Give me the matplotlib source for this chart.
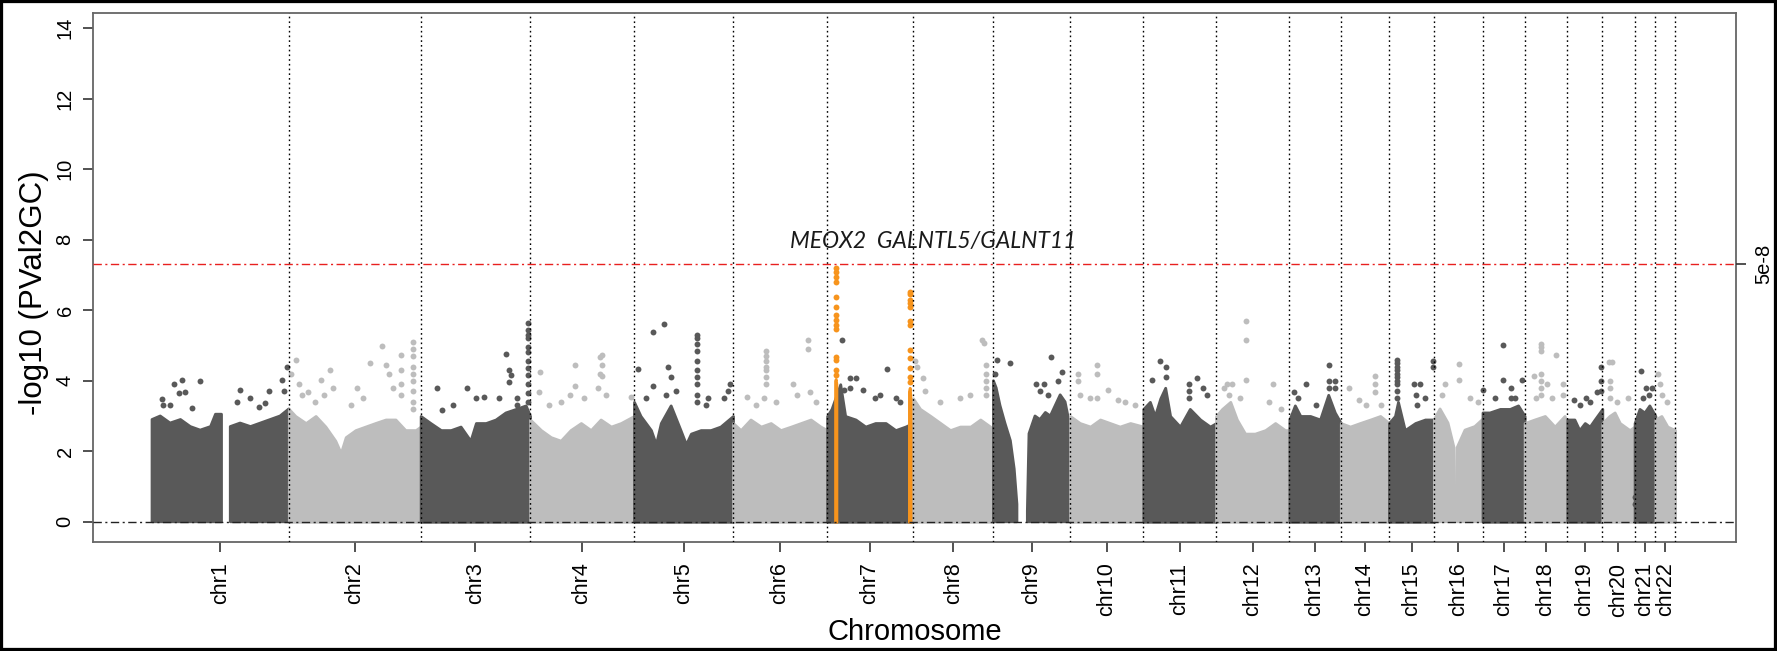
import numpy as np
import matplotlib
matplotlib.use("Agg")
import matplotlib.pyplot as plt

nan = float("nan")

# ---------------- data ----------------
chrom_names = [f"chr{i}" for i in range(1, 23)]
chrom_len_mb = [250, 241, 200, 190, 181, 172, 157, 147, 140, 134, 133, 134,
                94, 88, 83, 88, 77, 78, 64, 59, 38, 36]

# upper outline of the dense point cloud: (position Mb within chromosome, -log10 p)
chr1_band = [(0, 2.9), (15, 3.0), (33, 2.8), (52, 2.9), (70, 2.7), (88, 2.6), (107, 2.7), (116, 3.05), (127, 3.05),
             (135, nan), (143, 2.7), (161, 2.8), (180, 2.7), (198, 2.8), (216, 2.9), (234, 3.0), (250, 3.2)]
chr2_band = [(0, 3.2), (12, 3.0), (31, 2.8), (49, 3.0), (67, 2.7), (85, 2.3), (95, 1.95), (104, 2.4), (122, 2.6),
             (140, 2.7), (158, 2.8), (177, 2.9), (195, 2.9), (213, 2.6), (232, 2.6), (241, 2.7)]
chr3_band = [(0, 3.0), (18, 2.8), (37, 2.6), (55, 2.6), (73, 2.7), (91, 2.3), (101, 2.8), (119, 2.8), (137, 2.9),
             (155, 3.1), (174, 3.2), (192, 3.3), (200, 3.0)]
chr4_band = [(0, 2.9), (20, 2.6), (38, 2.4), (56, 2.3), (74, 2.6), (93, 2.8), (111, 2.6), (129, 2.9), (148, 2.7),
             (166, 2.8), (190, 3.0)]
chr5_band = [(0, 3.4), (12, 3.0), (31, 2.6), (40, 2.2), (49, 2.8), (67, 3.3), (85, 2.6), (95, 2.2), (104, 2.5),
             (122, 2.6), (140, 2.6), (158, 2.7), (181, 3.0)]
chr6_band = [(0, 2.8), (14, 2.6), (32, 2.9), (51, 2.7), (69, 2.8), (87, 2.6), (106, 2.7), (124, 2.8), (142, 2.9),
             (160, 2.7), (172, 2.6)]
chr7_band = [(0, 3.0), (8, 3.2), (24, 3.9), (33, 3.0), (52, 2.9), (70, 2.7), (88, 2.8), (107, 2.8), (125, 2.6),
             (143, 2.7), (157, 2.8)]
chr8_band = [(0, 3.5), (13, 3.2), (32, 3.0), (50, 2.8), (68, 2.6), (86, 2.7), (105, 2.7), (123, 2.9), (141, 2.7),
             (147, 2.6)]
chr9_band = [(0, 4.0), (5, 3.8), (12, 3.3), (21, 2.8), (31, 2.3), (38, 1.5), (43, 0.5), (44, nan), (61, nan),
             (62, 0.3), (65, 2.5), (76, 3.0), (85, 2.9), (95, 3.1), (104, 3.0), (113, 3.3), (122, 3.6), (131, 3.4),
             (140, 2.7)]
chr10_band = [(0, 3.0), (18, 2.8), (37, 2.7), (55, 2.9), (73, 2.8), (91, 2.7), (110, 2.8), (134, 2.7)]
chr11_band = [(0, 3.2), (12, 3.4), (21, 3.0), (31, 3.5), (40, 3.8), (49, 3.0), (67, 2.7), (85, 3.2), (104, 2.9),
              (122, 2.7), (133, 2.8)]
chr12_band = [(0, 3.0), (11, 3.2), (26, 3.4), (38, 2.9), (53, 2.5), (71, 2.5), (90, 2.6), (108, 2.8), (126, 2.6),
              (134, 2.6)]
chr13_band = [(0, 2.9), (10, 3.3), (20, 3.0), (38, 3.0), (56, 2.9), (71, 3.6), (83, 3.1), (94, 2.8)]
chr14_band = [(0, 2.8), (17, 2.7), (35, 2.8), (54, 2.9), (72, 3.0), (88, 2.8)]
chr15_band = [(0, 2.8), (11, 3.0), (16.5, 3.4), (29, 2.6), (48, 2.8), (66, 2.9), (83, 2.9)]
chr16_band = [(0, 2.9), (10.4, 3.2), (25, 2.8), (36, 2.1), (37.5, 0.3), (38.5, nan), (40, 0.3), (41.5, 2.1),
              (56, 2.6), (74, 2.7), (88, 2.9)]
chr17_band = [(0, 3.1), (13, 3.1), (32, 3.2), (50, 3.2), (65, 3.3), (77, 3.0)]
chr18_band = [(0, 2.8), (18, 2.9), (37, 3.0), (55, 2.7), (73, 3.0), (78, 2.8)]
chr19_band = [(0, 2.9), (13, 2.9), (22, 2.6), (32, 2.8), (41, 2.7), (50, 2.9), (64, 3.2)]
chr20_band = [(0, 2.8), (13, 3.0), (22.5, 3.1), (32, 2.8), (50, 2.6), (59, 2.7)]
chr21_band = [(0, 2.8), (9, 3.2), (18, 3.1), (27, 3.3), (38, 3.0)]
chr22_band = [(0, 2.9), (11, 3.0), (22, 2.7), (36, 2.6)]

# individual SNPs standing above the cloud: (position Mb within chromosome, -log10 p)
chr1_hits = [(39.5, 3.90), (54.8, 4.02), (88.3, 4.0), (48.6, 3.64), (60.9, 3.69), (18.3, 3.47), (20.7, 3.3),
             (73.1, 3.24), (33.5, 3.3), (161.4, 3.73), (179.7, 3.5), (213.1, 3.71), (237.6, 4.02), (241.9, 3.7),
             (246.8, 4.4), (194.9, 3.26), (207.1, 3.36), (155.4, 3.4)]
chr2_hits = [(13.5, 4.59), (4.9, 4.2), (58, 4.02), (76.2, 4.3), (36, 3.69), (48.8, 3.4), (125, 3.78), (149.3, 4.49),
             (170.7, 4.98), (176.8, 4.44), (182.3, 4.2), (204.2, 4.73), (205.5, 4.3), (206, 3.9), (206, 3.6),
             (227.4, 5.1), (227.4, 4.9), (227.4, 4.7), (227.4, 4.4), (227.4, 4.2), (227.4, 4.0), (227.4, 3.7),
             (227.4, 3.4), (227.4, 3.2), (113, 3.3), (135, 3.5), (18, 3.9), (25, 3.6), (63.6, 3.6), (81.7, 3.8),
             (189.6, 3.8)]
chr3_hits = [(30.5, 3.78), (39.7, 3.17), (58.5, 3.3), (85.4, 3.78), (100.5, 3.5), (115, 3.55), (143.1, 3.5),
             (155.4, 4.76), (161.4, 4.3), (161.4, 3.95), (164.5, 4.15), (176.8, 3.5), (176.8, 3.3), (196, 5.65),
             (196, 5.45), (196, 5.3), (196, 5.2), (196, 4.95), (196, 4.8), (196, 4.55), (196, 4.35), (196, 4.15),
             (196, 3.9), (196, 3.65), (196, 3.4)]
chr4_hits = [(18.8, 4.26), (15.9, 3.67), (81.7, 4.44), (81.7, 3.85), (72.6, 3.6), (98.2, 3.5), (127.4, 4.67),
             (127.4, 4.2), (131, 4.73), (131, 4.44), (131, 4.14), (123.7, 3.79), (138, 3.6), (184, 3.55),
             (56.1, 3.4), (34.2, 3.3)]
chr5_hits = [(7.5, 4.32), (35.5, 3.85), (35.5, 5.38), (55, 5.61), (62.2, 4.38), (67, 4.1), (58, 3.6), (115.9, 5.3),
             (115.9, 5.2), (115.9, 5.05), (115.9, 4.85), (115.9, 4.55), (115.9, 4.3), (115.9, 4.1), (115.9, 3.9),
             (115.9, 3.6), (115.9, 3.4), (131, 3.3), (135, 3.5), (164.7, 3.5), (175.3, 3.9), (171, 3.7),
             (21.4, 3.5), (76, 3.7)]
chr6_hits = [(26, 3.55), (60.9, 4.85), (60.9, 4.7), (60.9, 4.55), (60.9, 4.4), (60.9, 4.3), (60.9, 4.1),
             (60.9, 3.9), (56, 3.5), (110, 3.9), (137.8, 5.14), (137.8, 4.9), (140, 3.67), (151, 3.4),
             (116.4, 3.6), (78, 3.4), (41.5, 3.3)]
chr7_hits = [(26.9, 5.14), (42.2, 4.08), (52, 4.08), (42.6, 3.8), (66.4, 3.73), (108.8, 4.32), (88, 3.5),
             (97.4, 3.6), (125, 3.5), (134, 3.4), (30, 3.75)]
chr8_hits = [(7.5, 4.38), (4.2, 4.55), (17.9, 4.08), (22.5, 3.7), (126.3, 5.14), (130.3, 5.08), (133.4, 4.44),
             (133.4, 4.2), (133.4, 4.0), (133.4, 3.8), (133.4, 3.6), (50, 3.4), (86.5, 3.5), (105, 3.6)]
chr9_hits = [(7, 4.6), (29.4, 4.5), (3, 4.2), (104.9, 4.67), (125.9, 4.26), (77, 3.9), (92.7, 3.9), (85.4, 3.7),
             (118.3, 4.0), (100, 3.6)]
chr10_hits = [(13.7, 4.2), (13.7, 4.0), (48.6, 4.44), (48.6, 4.2), (69.5, 3.73), (87.2, 3.44), (18, 3.6),
              (49.4, 3.5), (36.6, 3.5), (100.5, 3.4), (118.8, 3.3)]
chr11_hits = [(30.2, 4.55), (40.6, 4.38), (15.9, 4.02), (41.5, 4.1), (98.3, 4.08), (84.3, 3.9), (84.3, 3.7),
              (84.3, 3.5), (116, 3.6), (109.2, 3.8)]
chr12_hits = [(53.9, 5.7), (53.9, 5.14), (53.9, 4.02), (20.7, 3.9), (29.2, 3.9), (13.7, 3.79), (23.8, 3.6),
              (103.5, 3.9), (43.9, 3.5), (96.3, 3.4), (118.8, 3.2)]
chr13_hits = [(8.4, 3.67), (29.6, 3.9), (16, 3.5), (72, 4.44), (72, 4.0), (72, 3.8), (82.6, 4.0), (82.6, 3.8),
              (48.8, 3.3)]
chr14_hits = [(63, 4.14), (63, 3.9), (63, 3.67), (15, 3.79), (33.5, 3.44), (73.7, 3.3), (46, 3.3)]
chr15_hits = [(15.2, 4.6), (15.2, 4.5), (15.2, 4.4), (15.2, 4.3), (15.2, 4.2), (15.2, 4.1), (15.2, 4.0),
              (15.2, 3.9), (15.2, 3.7), (15.2, 3.5), (45.5, 3.9), (56.7, 3.9), (49.4, 3.6), (51, 3.3),
              (81, 4.55), (81, 4.38), (65.8, 3.5)]
chr16_hits = [(45.8, 4.46), (45.8, 4.02), (19.4, 3.9), (14, 3.6), (65, 3.5), (80, 3.4)]
chr17_hits = [(36.9, 5.0), (36.9, 4.02), (1.6, 3.73), (51.2, 3.79), (51.2, 3.5), (72.4, 4.02), (59, 3.5),
              (22.5, 3.5)]
chr18_hits = [(30.5, 5.05), (30.5, 4.95), (30.5, 4.85), (30.5, 4.2), (30.5, 4.0), (30.5, 3.8), (30.5, 3.6),
              (57.4, 4.73), (16.3, 4.14), (40.2, 3.9), (69.5, 3.9), (69.5, 3.6), (49.4, 3.5), (20, 3.5)]
chr19_hits = [(12.6, 3.44), (33.8, 3.5), (40.8, 3.4), (55, 3.67), (62.2, 4.38), (62.2, 4.0), (62.2, 3.7),
              (22.5, 3.3)]
chr20_hits = [(12.2, 4.53), (17, 4.53), (14.3, 4.0), (14.3, 3.8), (14.3, 3.5), (47.7, 3.5), (26, 3.4)]
chr21_hits = [(11.9, 4.28), (20.5, 3.79), (31, 3.79), (25.6, 3.6), (14.6, 3.5), (0.2, 0.7), (0.2, 0.5)]
chr22_hits = [(4.8, 4.2), (9, 3.9), (22, 3.4), (12.8, 3.6)]

# highlighted loci on chr7 (orange)
meox2_band = [(14.5, 4.0), (15.7, 4.05), (17.0, 3.9)]
meox2_hits = [(15.7, 7.19), (15.7, 7.09), (15.7, 6.95), (15.7, 6.81), (15.7, 6.38), (15.7, 6.10), (15.7, 5.86),
              (15.7, 5.72), (15.7, 5.58), (15.7, 5.48), (15.7, 4.68), (15.7, 4.59), (15.7, 4.30), (15.7, 4.16)]
galnt_band = [(149.5, 3.7), (151.0, 3.8), (152.5, 3.5)]
galnt_hits = [(151, 6.52), (151, 6.45), (151, 6.29), (151, 6.19), (151, 6.10), (151, 5.68), (151, 5.58),
              (151, 4.87), (151, 4.63), (151, 4.35), (151, 4.1), (151, 3.95)]
highlight_chrom = "chr7"
annotation = "MEOX2  GALNTL5/GALNT11"
gw_threshold = 5e-8
y_ticks = [0, 2, 4, 6, 8, 10, 12, 14]

band_lists = [chr1_band, chr2_band, chr3_band, chr4_band, chr5_band, chr6_band, chr7_band, chr8_band,
              chr9_band, chr10_band, chr11_band, chr12_band, chr13_band, chr14_band, chr15_band, chr16_band,
              chr17_band, chr18_band, chr19_band, chr20_band, chr21_band, chr22_band]
hit_lists = [chr1_hits, chr2_hits, chr3_hits, chr4_hits, chr5_hits, chr6_hits, chr7_hits, chr8_hits,
             chr9_hits, chr10_hits, chr11_hits, chr12_hits, chr13_hits, chr14_hits, chr15_hits, chr16_hits,
             chr17_hits, chr18_hits, chr19_hits, chr20_hits, chr21_hits, chr22_hits]

# ---------------- style ----------------
plt.rcParams["font.family"] = ["Liberation Sans", "DejaVu Sans"]
DARK = "#595959"
LIGHT = "#bdbdbd"
ORANGE = "#f7941d"
DOT_S = 18

W, H, DPI = 1777, 651, 100
fig = plt.figure(figsize=(W / DPI, H / DPI), dpi=DPI)
ax = fig.add_axes([93.3 / W, 1 - 541.7 / H, (1736 - 93.3) / W, (541.7 - 12.5) / H])

starts = np.concatenate([[0], np.cumsum(chrom_len_mb)[:-1]])
ends = np.cumsum(chrom_len_mb)
total = ends[-1]


def draw_band(offset, band, color, z):
    pos = np.array([p for p, _ in band], dtype=float) + offset
    val = np.array([v for _, v in band], dtype=float)
    ax.fill_between(pos, 0, val, facecolor=color, edgecolor=color, linewidth=2.0, zorder=z)


def draw_hits(offset, hits, color, z):
    pos = np.array([p for p, _ in hits], dtype=float) + offset
    val = np.array([v for _, v in hits], dtype=float)
    ax.scatter(pos, val, s=DOT_S, color=color, linewidths=0, zorder=z)


for i in range(22):
    col = DARK if i % 2 == 0 else LIGHT
    draw_band(starts[i], band_lists[i], col, 2)
    draw_hits(starts[i], hit_lists[i], col, 2)

k = chrom_names.index(highlight_chrom)
for band, hits in ((meox2_band, meox2_hits), (galnt_band, galnt_hits)):
    draw_band(starts[k], band, ORANGE, 4)
    draw_hits(starts[k], hits, ORANGE, 4)

# chromosome separators
for e in ends:
    ax.axvline(e, color="black", lw=1.0, ls=(0, (1.2, 2.2)), zorder=5)

thr = -np.log10(gw_threshold)
ax.axhline(0, color="#222222", lw=1.0, ls=(0, (6, 2.5, 1.5, 2.5)), zorder=6)
ax.axhline(thr, color="#e8201f", lw=1.0, ls=(0, (6, 2.5, 1.5, 2.5)), zorder=6)

ax.set_xlim(-0.04 * total + 4, total * 1.04)
ax.set_ylim(-0.565, 14.44)

centers = starts + np.array(chrom_len_mb) / 2.0
ax.set_xticks(centers)
ax.set_xticklabels(chrom_names, rotation=90, fontsize=15.5)
ax.set_yticks(y_ticks)
ax.set_yticklabels([str(t) for t in y_ticks], rotation=90, va="center", fontsize=14.5)
ax.tick_params(axis="x", length=7, width=1.2, pad=8, color="#333333")
ax.tick_params(axis="y", length=7, width=1.2, pad=6.5, color="#333333")

for sp in ax.spines.values():
    sp.set_color("#666666")
    sp.set_linewidth(1.3)

ax2 = ax.twinx()
ax2.set_ylim(ax.get_ylim())
ax2.set_yticks([thr])
ax2.set_yticklabels(["5e-8"], rotation=90, va="center", fontsize=14.5)
ax2.tick_params(axis="y", length=7, width=1.2, pad=6, color="#333333")
for sp in ax2.spines.values():
    sp.set_visible(False)

ax.set_xlabel("Chromosome", fontsize=21)
ax.xaxis.set_label_coords(0.5, -0.145)
ax.set_ylabel("-log10 (PVal2GC)", fontsize=22.5)
ax.yaxis.set_label_coords(-0.027, 0.47)

ax.text(starts[k] - 68, 7.95, annotation, fontsize=16.5, style="italic",
        family=["Lato", "DejaVu Sans"], color="#1a1a1a", ha="left", va="center", zorder=7)

fig.add_artist(plt.Rectangle((0, 0), 1, 1, transform=fig.transFigure, fill=False,
                             edgecolor="black", linewidth=4.5))

fig.savefig("out.png", dpi=DPI)
